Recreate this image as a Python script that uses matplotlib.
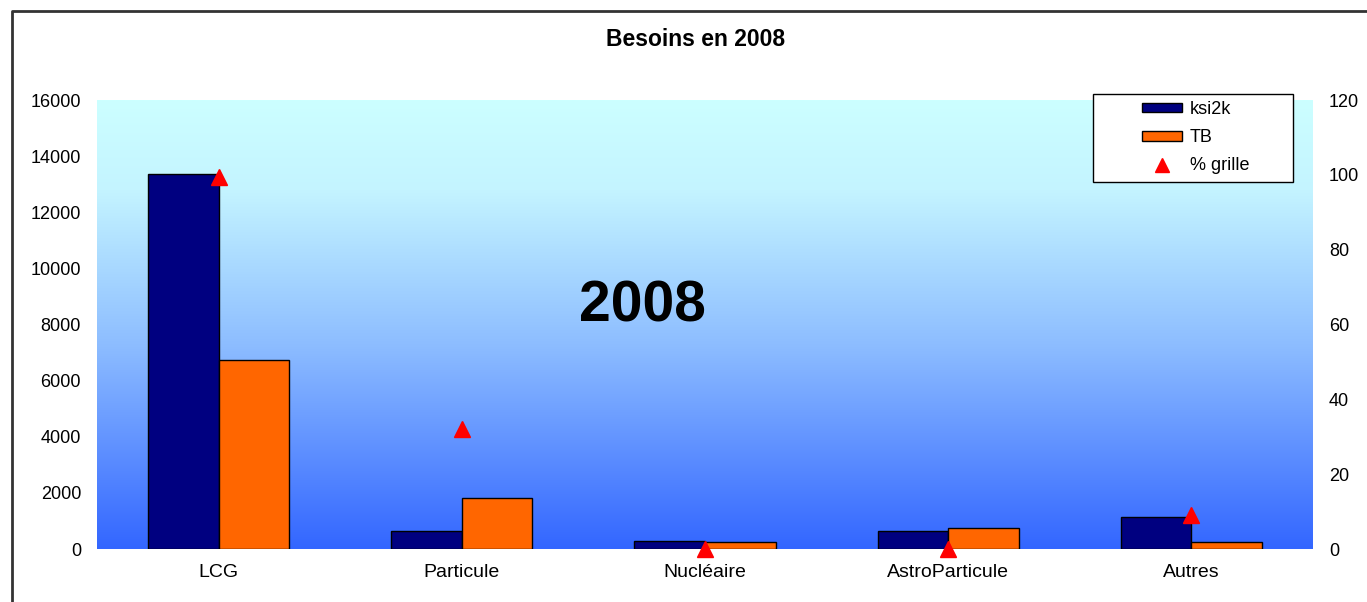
import matplotlib
matplotlib.use("Agg")
import matplotlib.pyplot as plt
import numpy as np
from matplotlib.colors import LinearSegmentedColormap
from matplotlib.lines import Line2D
from matplotlib.patches import Rectangle

plt.rcParams['font.family'] = ['Liberation Sans', 'DejaVu Sans']

# data
categories = ['LCG', 'Particule', 'Nucléaire', 'AstroParticule', 'Autres']
ksi2k = [13350, 650, 300, 650, 1150]
tb = [6730, 1800, 250, 750, 250]
pct_grille = [99.5, 32, 0, 0, 9]

left_ticks = [0, 2000, 4000, 6000, 8000, 10000, 12000, 14000, 16000]
right_ticks = [0, 20, 40, 60, 80, 100, 120]

W, H = 1367, 602
fig = plt.figure(figsize=(W / 100, H / 100), dpi=100)
ax = fig.add_axes([97/W, 1 - 549/H, (1313 - 97)/W, 449/H])

# gradient background
cmap = LinearSegmentedColormap.from_list(
    'bg', [(0.0, '#3366ff'), (0.45, '#8cbcff'), (0.8, '#c4f4ff'), (1.0, '#ccffff')])
grad = np.linspace(0, 1, 256).reshape(-1, 1)
ax.imshow(grad, cmap=cmap, origin='lower', aspect='auto',
          extent=[0, 5, 0, 16000], zorder=0)

x = np.arange(len(categories)) + 0.5
w = 0.29
ax.bar(x - w/2, ksi2k, w, color='#000080', edgecolor='black', linewidth=1,
       zorder=2, label='ksi2k')
ax.bar(x + w/2, tb, w, color='#ff6600', edgecolor='black', linewidth=1,
       zorder=2, label='TB')

ax.set_xlim(0, 5)
ax.set_ylim(0, 16000)
ax.set_yticks(left_ticks)
ax.set_yticklabels([str(t) for t in left_ticks])
ax.set_xticks(x)
ax.set_xticklabels(categories)
ax.tick_params(axis='y', length=0, labelsize=13, pad=11.5)
ax.tick_params(axis='x', length=0, labelsize=14, pad=11)
for s in ax.spines.values():
    s.set_visible(False)

ax2 = ax.twinx()
ax2.plot(x, pct_grille, linestyle='none', marker='^', markersize=12,
         color='red', zorder=3, clip_on=False, label='% grille')
ax2.set_ylim(0, 120)
ax2.set_yticks(right_ticks)
ax2.tick_params(axis='y', length=0, labelsize=13, pad=11.5)
for s in ax2.spines.values():
    s.set_visible(False)

fig.text(696/W, 1 - 40/H, 'Besoins en 2008', ha='center', va='center',
         fontsize=16.5, fontweight='bold')
ax.text(642/W, 1 - 322/H, '2008', transform=fig.transFigure,
        ha='center', va='baseline', fontsize=41, fontweight='bold', zorder=4)

# legend: frame drawn separately (wide empty margin on the left, as in the original)
fig.add_artist(Rectangle((1093/W, 1 - 182/H), 200/W, 88/H,
                         transform=fig.transFigure, facecolor='white',
                         edgecolor='black', linewidth=1, zorder=5))
h1, l1 = ax.get_legend_handles_labels()
h2, l2 = ax2.get_legend_handles_labels()
leg = fig.legend(h1 + h2, l1 + l2, loc='upper left',
                 bbox_to_anchor=(1142/W, 1 - 101/H),
                 bbox_transform=fig.transFigure, fontsize=13, frameon=False,
                 handlelength=2.2, handleheight=0.45, labelspacing=0.62,
                 borderpad=0, handletextpad=0.45, borderaxespad=0,
                 markerscale=0.8)
leg.set_zorder(6)

# outer frame (clipped at right and bottom)
fig.add_artist(Line2D([12/W, 12/W, 1.0], [0, 1 - 11/H, 1 - 11/H],
                      transform=fig.transFigure, color='#333333', linewidth=2))

fig.savefig('out.png', dpi=100, facecolor='white')
